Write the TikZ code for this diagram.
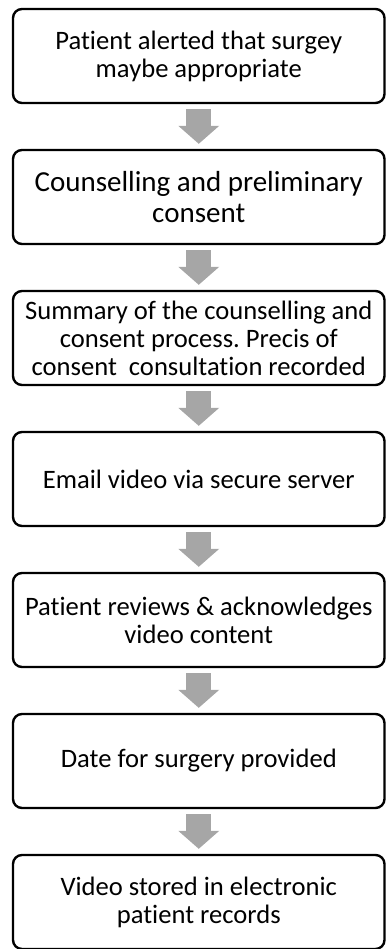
\documentclass[tikz,border=0pt]{standalone}
\usepackage{fontspec}
\setmainfont{Carlito}[Ligatures=NoCommon]
\frenchspacing
\usetikzlibrary{arrows.meta,positioning}
\definecolor{arrowgray}{HTML}{A6A6A6}
\tikzset{
  stage/.style={draw=black,fill=white,line width=2.4pt,rounded corners=9pt,
    align=center,minimum width=371.5pt,minimum height=94pt,inner sep=0pt,
    font=\fontsize{26.6}{28}\selectfont},
  bigstage/.style={stage,font=\fontsize{29}{30.5}\selectfont},
  flowarrow/.style={draw=arrowgray,line width=25pt,
    -{Triangle[width=41pt,length=18pt,line width=0pt]},
    shorten <=5pt,shorten >=5pt}
}

\begin{document}
\begin{tikzpicture}[node distance=44.6pt]
  \useasboundingbox (0,0) rectangle (386pt,-949pt);
  % pathway, top to bottom
  \node[stage] (alert) at (198.75pt,-56pt) {Patient alerted that surgey\\maybe appropriate};
  \node[bigstage,below=of alert] (counsel) {Counselling and preliminary\\consent};
  \node[stage,below=of counsel] (summary) {Summary of the counselling and\\consent process. Precis of\\consent\ \ consultation recorded};
  \node[stage,below=of summary] (email) {Email video via secure server};
  \node[stage,below=of email] (review) {Patient reviews \& acknowledges\\video content};
  \node[stage,below=of review] (date) {Date for surgery provided};
  \node[stage,below=of date] (store) {Video stored in electronic\\patient records};
  \foreach \a/\b in {alert/counsel,counsel/summary,summary/email,email/review,review/date,date/store}
    \draw[flowarrow] (\a)--(\b);
\end{tikzpicture}
\end{document}
